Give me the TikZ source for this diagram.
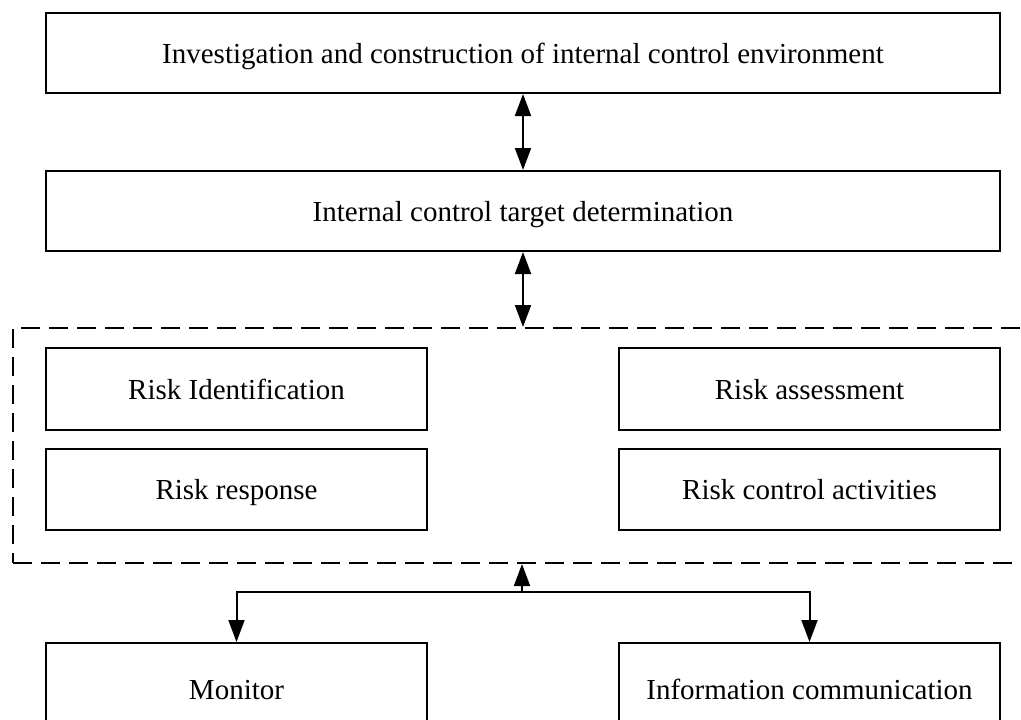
\documentclass[tikz,border=0pt]{standalone}
\usepackage{fontspec}
\setmainfont{Liberation Serif}
\usetikzlibrary{arrows.meta}
\begin{document}
\begin{tikzpicture}[x=1pt,y=-1pt,
  box/.style={draw, line width=2pt, anchor=north west, inner sep=0pt,
              font=\fontsize{29}{34}\selectfont, text height=22pt, text depth=2pt},
  wide/.style={box, minimum width=954pt, minimum height=80pt},
  half/.style={box, minimum width=381pt, minimum height=82pt},
  region/.style={draw, line width=2pt, dash pattern=on 19pt off 9pt,
                 anchor=north west, inner sep=0pt},
  link/.style={line width=2pt, -{Triangle[length=22pt,width=16pt]}},
  dlink/.style={line width=2pt, {Triangle[length=22pt,width=16pt]}-{Triangle[length=22pt,width=16pt]}}]
\useasboundingbox (0,0) rectangle (1021,720);
\clip (0,0) rectangle (1021,720);

% upper chain
\node[wide] (env) at (45,12) {Investigation and construction of internal control environment};
\node[wide] (target) at (45,170) {Internal control target determination};

% risk management region
\node[region, minimum width=1030pt, minimum height=235pt] (area) at (12,327) {};
\node[half] (ident) at (45,347) {Risk Identification};
\node[half] (assess) at (618,347) {Risk assessment};
\node[half, minimum height=81pt] (resp) at (45,448) {Risk response};
\node[half, minimum height=81pt] (ctrl) at (618,448) {Risk control activities};

% lower row
\node[half, minimum height=92pt] (mon) at (45,642) {Monitor};
\node[half, minimum height=92pt] (info) at (618,642) {Information communication};

% connectors
\draw[dlink] (env.south) -- (target.north);
\draw[dlink] (target.south) -- (target.south |- area.north);
\coordinate (split) at (522,592);
\draw[link] (split) -- (split |- area.south);
\draw[link] (split) -| (mon.north);
\draw[link] (split) -| (info.north);
\end{tikzpicture}
\end{document}
